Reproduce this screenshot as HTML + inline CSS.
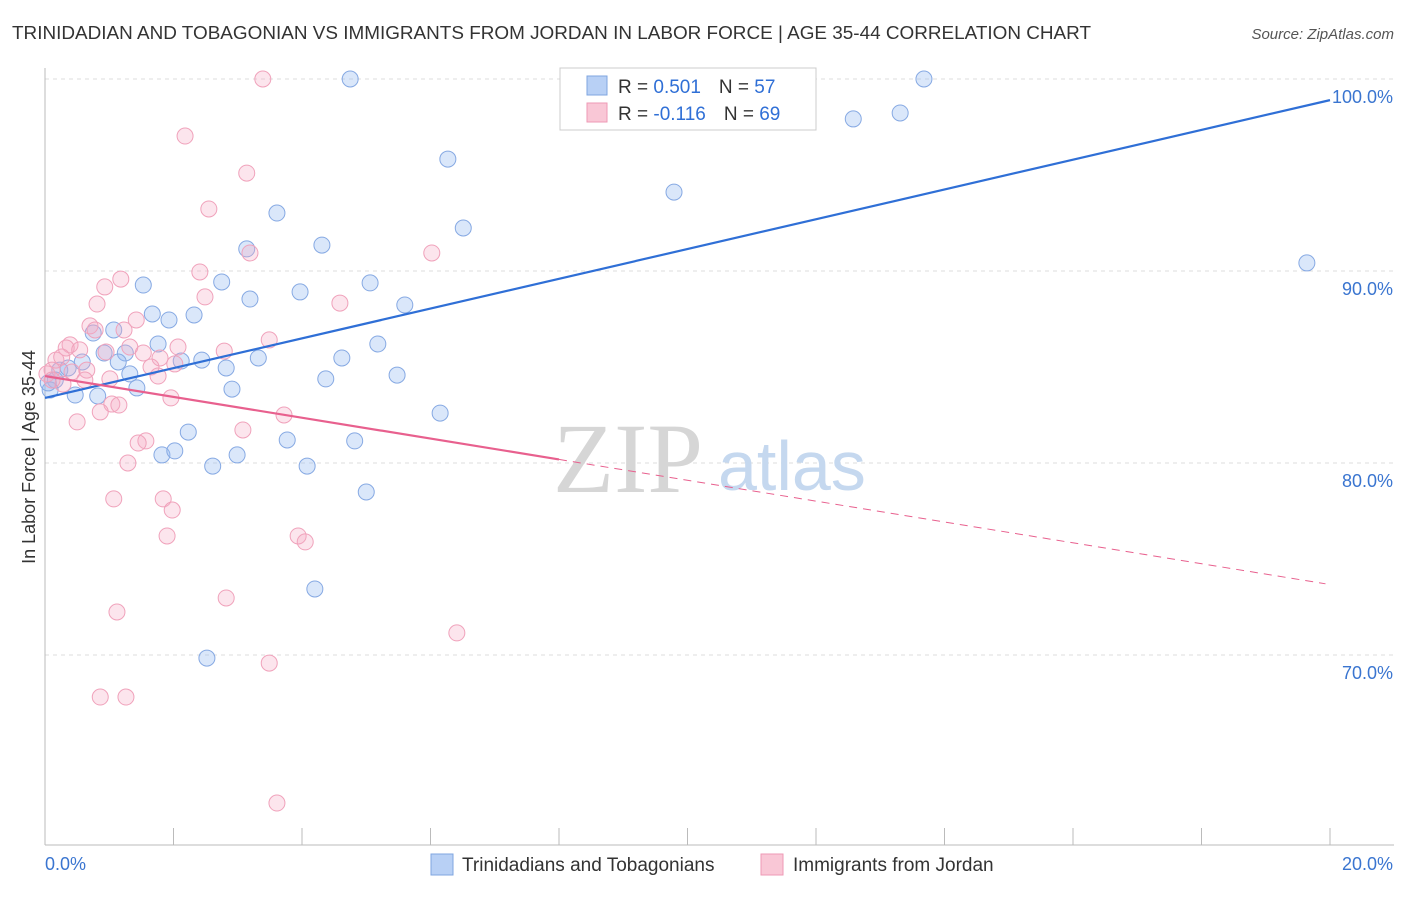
<!DOCTYPE html>
<html><head><meta charset="utf-8">
<style>
body{margin:0;background:#fff;font-family:"Liberation Sans",sans-serif;}
</style></head>
<body>
<svg id="chart" width="1406" height="892" font-family="Liberation Sans, sans-serif">
<text x="12" y="39" font-size="18.5" fill="#333" textLength="1079" lengthAdjust="spacingAndGlyphs">TRINIDADIAN AND TOBAGONIAN VS IMMIGRANTS FROM JORDAN IN LABOR FORCE | AGE 35-44 CORRELATION CHART</text>
<text x="1394" y="39" font-size="15" fill="#555" font-style="italic" text-anchor="end">Source: ZipAtlas.com</text>
<text x="35" y="457" font-size="18" fill="#333" text-anchor="middle" transform="rotate(-90 35 457)">In Labor Force | Age 35-44</text>
<g id="grid"></g>
<g id="axes"></g>
<text x="553" y="492" font-size="100" fill="#d6d6d6" style="font-family:'Liberation Serif',serif">ZIP</text>
<text x="718" y="490" font-size="70" fill="#c5d8ef">atlas</text>
<g id="pts"></g>
<g id="lines"></g>
<g>
<rect x="560" y="68" width="256" height="62" fill="#fff" stroke="#ccc"/>
<rect x="587" y="76" width="20" height="19" fill="#b8d0f5" stroke="#7fa6e0"/>
<rect x="587" y="103" width="20" height="19" fill="#f9c7d6" stroke="#ee9ab5"/>
<text x="618" y="93" font-size="19" fill="#333">R = <tspan fill="#2f6fd6">0.501</tspan><tspan dx="18">N = </tspan><tspan fill="#2f6fd6">57</tspan></text>
<text x="618" y="120" font-size="19" fill="#333">R = <tspan fill="#2f6fd6">-0.116</tspan><tspan dx="18">N = </tspan><tspan fill="#2f6fd6">69</tspan></text>
</g>
<g>
<rect x="431" y="854" width="22" height="21" fill="#b8d0f5" stroke="#7fa6e0"/>
<text x="462" y="871" font-size="19" fill="#333">Trinidadians and Tobagonians</text>
<rect x="761" y="854" width="22" height="21" fill="#f9c7d6" stroke="#ee9ab5"/>
<text x="793" y="871" font-size="19" fill="#333">Immigrants from Jordan</text>
</g>
</svg>
<script>
const blueX=[4.75,13.68,12.58,13.31,6.27,9.79,3.61,6.51,4.31,3.14,19.64,2.75,3.97,5.06,1.53,3.19,5.60,1.67,1.93,2.32,1.07,0.75,1.76,5.18,0.92,1.25,2.44,2.12,3.32,4.62,2.82,1.14,1.32,0.23,0.16,4.37,5.48,1.43,2.91,0.47,0.82,0.08,6.15,2.23,3.77,4.82,1.82,2.02,2.99,2.61,4.08,5.00,4.20,2.52,0.58,0.36,0.05];
const blueY=[100,100,97.92,98.23,95.83,94.11,93.02,92.24,91.35,91.15,90.42,89.43,88.91,89.38,89.27,88.54,88.23,87.76,87.45,87.71,86.93,86.77,86.20,86.20,85.73,85.73,85.36,85.31,85.47,85.47,84.95,85.26,84.64,84.84,84.32,84.38,84.58,83.91,83.85,83.54,83.49,83.80,82.60,81.61,81.20,81.15,80.42,80.63,80.42,79.84,79.84,78.49,73.44,69.84,85.26,84.95,84.17];
const pinkX=[3.39,2.18,3.14,2.55,6.02,3.19,2.41,1.18,0.81,0.93,2.49,4.59,0.70,1.42,1.23,3.49,0.78,0.39,2.07,0.17,0.33,0.95,1.32,1.79,2.79,0.26,0.54,1.53,1.65,2.02,0.11,0.65,0.03,0.42,0.62,1.01,1.76,0.28,0.11,1.04,1.15,0.86,1.96,0.50,3.72,3.08,1.57,1.45,1.29,1.07,1.84,1.98,1.90,3.94,4.05,1.12,2.82,6.41,3.49,0.86,1.26,3.61];
const pinkY=[100,97.03,95.10,93.23,90.94,90.94,89.95,89.58,88.28,89.17,88.65,88.33,87.14,87.45,86.93,86.41,86.93,86.15,86.04,85.36,85.99,85.78,86.04,85.47,85.83,85.52,85.89,85.73,85.00,85.16,84.84,84.84,84.64,84.74,84.32,84.38,84.53,84.11,84.32,83.07,83.02,82.66,83.39,82.14,82.50,81.72,81.15,81.04,80.00,78.13,78.13,77.55,76.20,76.20,75.89,72.24,72.97,71.15,69.58,67.81,67.81,62.29];
const xTicks=[0,2,4,6,8,10,12,14,16,18,20];
const yTicks=[70,80,90,100];
const yTickLabels=["70.0%","80.0%","90.0%","100.0%"];
const blueTrend=[83.39,98.9];
const pinkTrend=[84.53,-0.543];
const pinkSolidEnd=8, pinkDashEnd=19.93;

const NS="http://www.w3.org/2000/svg";
const sx=v=>45+v*64.25;
const sy=v=>79+(100-v)*19.2;
function mk(tag,attrs,parent){const e=document.createElementNS(NS,tag);for(const k in attrs)e.setAttribute(k,attrs[k]);document.getElementById(parent).appendChild(e);return e;}

yTicks.forEach((t,i)=>{
  const g=mk('line',{x1:45,x2:1394,y1:sy(t),y2:sy(t),stroke:'#ddd','stroke-dasharray':'4,4'},'grid');
  
  
  const l=mk('text',{x:1393,y:sy(t)+24,'font-size':18,fill:'#3a75d0','text-anchor':'end'},'grid');
  l.textContent=yTickLabels[i];
  
  
});
const ax=mk('line',{x1:45,x2:45,y1:68,y2:845,stroke:'#bbb'},'axes');


const bx=mk('line',{x1:45,x2:1394,y1:845,y2:845,stroke:'#bbb'},'axes');


xTicks.forEach(t=>{
  const k=mk('line',{x1:sx(t),x2:sx(t),y1:828,y2:845,stroke:'#bbb'},'axes');
  
  
});
const xl0=mk('text',{x:45,y:870,'font-size':18,fill:'#3a75d0'},'axes');xl0.textContent='0.0%';


const xl1=mk('text',{x:1393,y:870,'font-size':18,fill:'#3a75d0','text-anchor':'end'},'axes');xl1.textContent='20.0%';



blueX.forEach((x,i)=>{
  const c=mk('circle',{cx:sx(x),cy:sy(blueY[i]),r:8,fill:'rgba(150,185,240,0.35)',stroke:'#86a9e3','stroke-width':1},'pts');
  
  
});
pinkX.forEach((x,i)=>{
  const c=mk('circle',{cx:sx(x),cy:sy(pinkY[i]),r:8,fill:'rgba(245,170,195,0.3)',stroke:'#f0a2bb','stroke-width':1},'pts');
  
  
});
const bl=mk('line',{x1:sx(0),y1:sy(blueTrend[0]),x2:sx(20),y2:sy(blueTrend[1]),stroke:'#2f6fd6','stroke-width':2.2},'lines');


const pf=x=>pinkTrend[0]+pinkTrend[1]*x;
const pl=mk('line',{x1:sx(0),y1:sy(pf(0)),x2:sx(pinkSolidEnd),y2:sy(pf(pinkSolidEnd)),stroke:'#e8608e','stroke-width':2.2},'lines');


const pd=mk('line',{x1:sx(pinkSolidEnd),y1:sy(pf(pinkSolidEnd)),x2:sx(pinkDashEnd),y2:sy(pf(pinkDashEnd)),stroke:'#e8608e','stroke-width':1,'stroke-dasharray':'8,6'},'lines');


</script>
</body></html>
